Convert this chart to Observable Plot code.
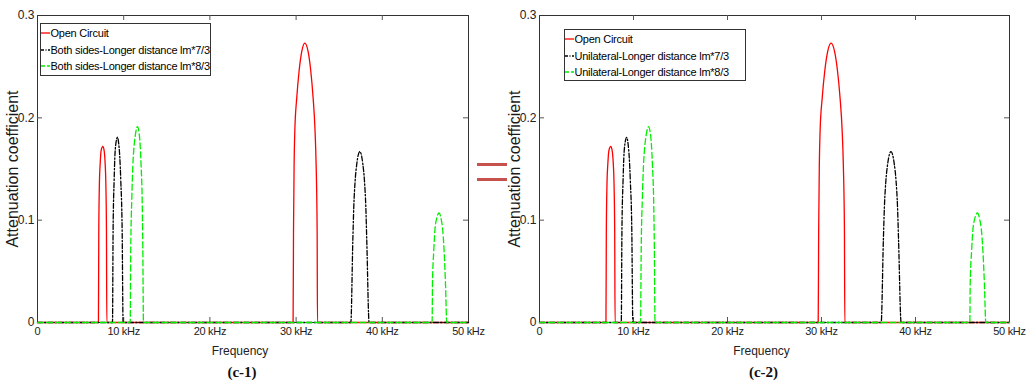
<!DOCTYPE html>
<html>
<head>
<meta charset="utf-8">
<script src="https://cdn.jsdelivr.net/npm/d3@7"></script>
<script src="https://cdn.jsdelivr.net/npm/@observablehq/plot@0.6"></script>
<style>
  body { margin: 0; background: #fff; }
  #fig { position: relative; width: 1032px; height: 385px; overflow: hidden;
         font-family: "Liberation Sans", Arial, sans-serif; }
  .panel { position: absolute; top: 0; }
  .legend { position: absolute; border: 1px solid #333; background: #fff; box-sizing: border-box;
            font-size: 11px; letter-spacing: -0.25px; color: #000; }
  .legend .row { position: absolute; left: 0; height: 16px; display: flex; align-items: center; white-space: nowrap; }
  .legend svg { display: block; margin-right: 0.5px; }
  .eq { position: absolute; left: 477px; width: 30px; height: 3px; background: #c5524c; }
  g[aria-label="x-axis tick label"] text { letter-spacing: -0.3px; }
</style>
</head>
<body>
<div id="fig"></div>
<script>
// Axis ticks and labels
const xTicks = [0, 10, 20, 30, 40, 50];
const xTickLabels = ["0", "10 kHz", "20 kHz", "30 kHz", "40 kHz", "50 kHz"];
const yTicks = [0, 0.1, 0.2, 0.3];
const yTickLabels = ["0", "0.1", "0.2", "0.3"];
const innerXTicks = [10, 20, 30, 40];
const innerYTicks = [0.1, 0.2];

// Attenuation coefficient vs frequency (kHz), [frequency, value]
const openCircuit = [
  [0, 0], [7.07, 0], [7.11, 0.09], [7.19, 0.139], [7.27, 0.155], [7.38, 0.168], [7.58, 0.172],
  [7.73, 0.168], [7.85, 0.155], [7.92, 0.139], [8.0, 0.09], [8.04, 0],
  [29.65, 0], [29.7, 0.09], [29.77, 0.155], [29.85, 0.187], [30.08, 0.22], [30.35, 0.246],
  [30.66, 0.265], [31.01, 0.273], [31.39, 0.265], [31.7, 0.246], [31.97, 0.22], [32.2, 0.187],
  [32.32, 0.155], [32.44, 0.09], [32.48, 0], [50, 0]
];
const longer73 = [
  [0, 0], [8.7, 0], [8.77, 0.09], [8.89, 0.139], [8.97, 0.161], [9.08, 0.174], [9.28, 0.181],
  [9.43, 0.174], [9.55, 0.161], [9.66, 0.139], [9.82, 0.09], [9.93, 0],
  [36.35, 0], [36.58, 0.08], [36.69, 0.1125], [36.85, 0.1385], [37.04, 0.155], [37.39, 0.167],
  [37.74, 0.155], [37.93, 0.1385], [38.09, 0.1125], [38.2, 0.08], [38.47, 0], [50, 0]
];
const longer83 = [
  [0, 0], [10.75, 0], [10.82, 0.072], [10.94, 0.121], [11.06, 0.153], [11.21, 0.173], [11.33, 0.182],
  [11.6, 0.1915], [11.83, 0.182], [11.91, 0.173], [12.02, 0.153], [12.14, 0.121], [12.22, 0.072], [12.29, 0],
  [45.78, 0], [45.82, 0.038], [45.97, 0.07], [46.13, 0.093], [46.25, 0.0995], [46.59, 0.107],
  [46.86, 0.0995], [46.98, 0.093], [47.17, 0.07], [47.33, 0.038], [47.48, 0], [50, 0]
];

const namesBoth = ["Open Circuit", "Both sides-Longer distance lm*7/3", "Both sides-Longer distance lm*8/3"];
const namesUnilateral = ["Open Circuit", "Unilateral-Longer distance lm*7/3", "Unilateral-Longer distance lm*8/3"];
const panelTags = ["(c-1)", "(c-2)"];
const xTitle = "Frequency";
const yTitle = "Attenuation coefficient";

const seriesData = [openCircuit, longer73, longer83];
const seriesStyle = [
  { color: "#ff0000", dash: null, legendDash: null },
  { color: "#000000", dash: "5,2,1.5,2", legendDash: "3,1.5,1,1.5" },
  { color: "#00ee00", dash: "6,3", legendDash: "4,2" }
];

const fig = document.getElementById("fig");
const H = 385, MT = 15, MB = 63;

function drawPanel({ left, width, marginLeft, marginRight, names, tag, legendBox }) {
  const frameW = width - marginLeft - marginRight;
  const frameH = H - MT - MB;
  const svg = Plot.plot({
    width, height: H, marginLeft, marginRight, marginTop: MT, marginBottom: MB,
    x: { domain: [0, 50] },
    y: { domain: [0, 0.3] },
    style: { fontFamily: '"Liberation Sans", Arial, sans-serif', background: "transparent", overflow: "visible", color: "#222" },
    marks: [
      Plot.axisX(xTicks, { tickSize: 0, tickPadding: 5, fontSize: 11, label: null,
        tickFormat: d => xTickLabels[xTicks.indexOf(d)] }),
      Plot.axisY(yTicks, { tickSize: 0, tickPadding: 3, fontSize: 12, label: null,
        tickFormat: d => yTickLabels[yTicks.indexOf(d)] }),
      Plot.frame({ stroke: "#333" }),
      // inward ticks on all four sides
      Plot.tickX(innerXTicks, { x: d => d, insetTop: frameH - 5, stroke: "#555" }),
      Plot.tickX(innerXTicks, { x: d => d, insetBottom: frameH - 5, stroke: "#555" }),
      Plot.tickY(innerYTicks, { y: d => d, insetRight: frameW - 5, stroke: "#555" }),
      Plot.tickY(innerYTicks, { y: d => d, insetLeft: frameW - 5, stroke: "#555" }),
      ...seriesData.map((pts, i) => Plot.line(pts, {
        x: d => d[0], y: d => d[1], curve: "monotone-x",
        stroke: seriesStyle[i].color, strokeDasharray: seriesStyle[i].dash, strokeWidth: 1.3
      })),
      Plot.text([xTitle], { text: d => d, frameAnchor: "bottom", dx: -13, dy: 29, fontSize: 12, lineAnchor: "middle", fill: "#222" }),
      Plot.text([tag], { text: d => d, frameAnchor: "bottom", dx: -11, dy: 50, fontSize: 15, fontWeight: "bold",
        fontFamily: '"Liberation Serif", "Times New Roman", serif', lineAnchor: "middle", fill: "#111" }),
      Plot.text([yTitle], { text: d => d, frameAnchor: "left", textAnchor: "middle", rotate: -90, dx: -25,
        fontSize: 16, lineAnchor: "middle", fill: "#1a1a1a" })
    ]
  });
  svg.classList.add("panel");
  svg.style.left = left + "px";
  fig.appendChild(svg);

  // legend
  const lg = document.createElement("div");
  lg.className = "legend";
  Object.assign(lg.style, { left: legendBox.left + "px", top: legendBox.top + "px", width: legendBox.width + "px", height: legendBox.height + "px" });
  names.forEach((name, i) => {
    const row = document.createElement("div");
    row.className = "row";
    row.style.top = (legendBox.rowTop + i * legendBox.rowStep) + "px";
    const s = seriesStyle[i];
    row.innerHTML = `<svg width="9" height="4"><line x1="0" x2="9" y1="2" y2="2" stroke="${s.color}" stroke-width="1.3" ${s.legendDash ? `stroke-dasharray="${s.legendDash}"` : ""}/></svg><span>${name}</span>`;
    lg.appendChild(row);
  });
  fig.appendChild(lg);
}

drawPanel({ left: 0, width: 500, marginLeft: 37, marginRight: 32, names: namesBoth, tag: panelTags[0],
  legendBox: { left: 40, top: 23, width: 171, height: 53, rowTop: 1, rowStep: 16.5 } });
drawPanel({ left: 470, width: 562, marginLeft: 69, marginRight: 23, names: namesUnilateral, tag: panelTags[1],
  legendBox: { left: 564, top: 29, width: 182, height: 52, rowTop: 1, rowStep: 16.5 } });

// equals sign between the two panels
[163, 178].forEach(top => {
  const bar = document.createElement("div");
  bar.className = "eq";
  bar.style.top = top + "px";
  fig.appendChild(bar);
});
</script>
</body>
</html>
